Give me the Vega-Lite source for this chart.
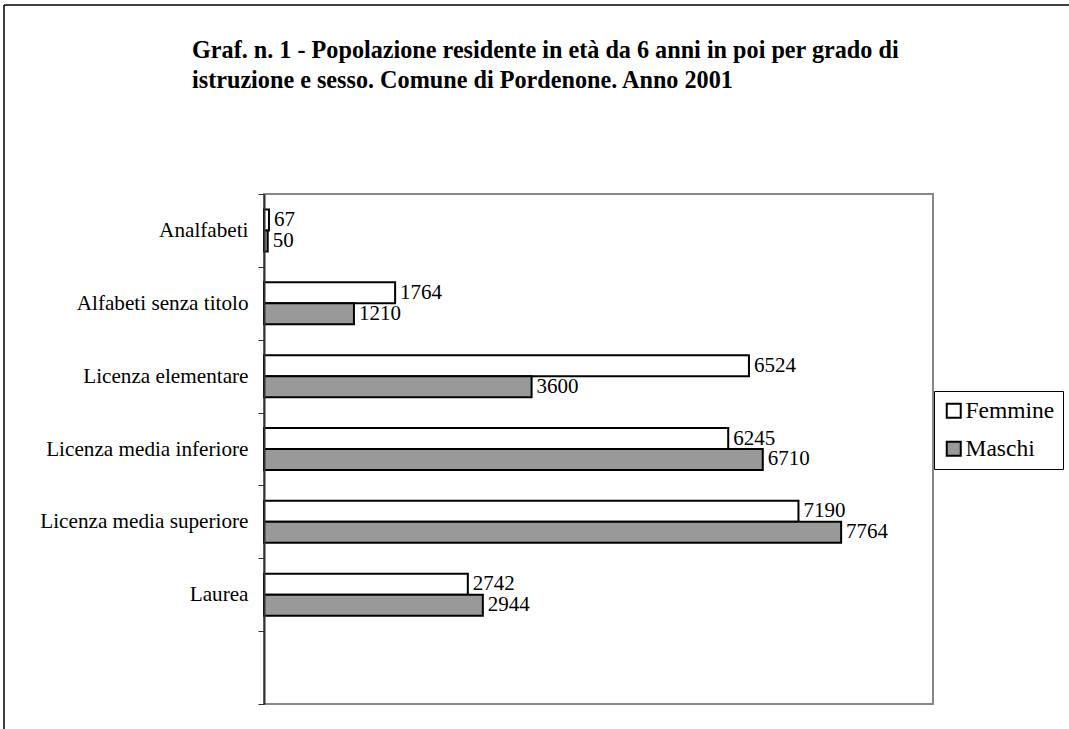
{
  "$schema": "https://vega.github.io/schema/vega-lite/v6.json",
  "autosize": "none",
  "padding": {"left": 4, "top": 5, "right": 0, "bottom": 0},
  "width": 1065,
  "height": 724,
  "background": "white",
  "config": {
    "view": {"stroke": "black", "strokeWidth": 1.5, "strokeDash": [1065, 1789, 724, 0]},
    "font": "Liberation Serif"
  },
  "title": {
    "text": ["Graf. n. 1 - Popolazione residente in età da 6 anni in poi per grado di", "istruzione e sesso. Comune di Pordenone. Anno 2001"],
    "anchor": "start",
    "frame": "group",
    "font": "Liberation Serif",
    "fontSize": 24.2,
    "fontWeight": "bold",
    "color": "black",
    "lineHeight": 30,
    "dx": 188,
    "dy": 103
  },
  "data": {
    "values": [
      {"cat": "Analfabeti", "sex": "Femmine", "value": 67},
      {"cat": "Analfabeti", "sex": "Maschi", "value": 50},
      {"cat": "Alfabeti senza titolo", "sex": "Femmine", "value": 1764},
      {"cat": "Alfabeti senza titolo", "sex": "Maschi", "value": 1210},
      {"cat": "Licenza elementare", "sex": "Femmine", "value": 6524},
      {"cat": "Licenza elementare", "sex": "Maschi", "value": 3600},
      {"cat": "Licenza media inferiore", "sex": "Femmine", "value": 6245},
      {"cat": "Licenza media inferiore", "sex": "Maschi", "value": 6710},
      {"cat": "Licenza media superiore", "sex": "Femmine", "value": 7190},
      {"cat": "Licenza media superiore", "sex": "Maschi", "value": 7764},
      {"cat": "Laurea", "sex": "Femmine", "value": 2742},
      {"cat": "Laurea", "sex": "Maschi", "value": 2944}
    ]
  },
  "resolve": {"scale": {"y": "independent"}, "axis": {"y": "independent"}},
  "layer": [
    {
      "mark": {"type": "rect", "fill": "white", "fillOpacity": 0, "stroke": "#888888", "strokeWidth": 2},
      "encoding": {
        "x": {"datum": 0, "type": "quantitative", "scale": {"domain": [0, 9000], "range": [260, 929]}, "axis": null},
        "x2": {"datum": 9000},
        "y": {"datum": 0, "type": "quantitative", "scale": {"domain": [0, 1], "range": [189, 699]}, "axis": null},
        "y2": {"datum": 1}
      }
    },
    {
      "encoding": {
        "x": {"field": "value", "type": "quantitative", "scale": {"domain": [0, 9000], "range": [260, 929]}, "axis": null},
        "y": {
          "field": "cat",
          "type": "nominal",
          "sort": null,
          "scale": {
            "domain": ["Analfabeti", "Alfabeti senza titolo", "Licenza elementare", "Licenza media inferiore", "Licenza media superiore", "Laurea", " "],
            "range": [189, 699],
            "paddingInner": 0,
            "paddingOuter": 0
          },
          "axis": {
            "orient": "left",
            "offset": -260,
            "title": null,
            "domainColor": "#333333",
            "domainWidth": 2,
            "tickColor": "#333333",
            "tickSize": 6,
            "tickWidth": 1,
            "tickBand": "extent",
            "labelFont": "Liberation Serif",
            "labelFontSize": 21.2,
            "labelColor": "black",
            "labelPadding": 10,
            "labelLimit": 400,
            "zindex": 1
          }
        },
        "yOffset": {
          "field": "sex",
          "type": "nominal",
          "scale": {"domain": ["Femmine", "Maschi"], "paddingInner": 0, "paddingOuter": 0.735}
        }
      },
      "layer": [
        {
          "mark": {"type": "bar", "stroke": "black", "strokeWidth": 2},
          "encoding": {
            "fill": {
              "field": "sex",
              "type": "nominal",
              "scale": {"domain": ["Femmine", "Maschi"], "range": ["#ffffff", "#999999"]},
              "legend": {
                "orient": "none",
                "legendX": 930,
                "legendY": 386,
                "title": null,
                "strokeColor": "black",
                "padding": 8,
                "symbolType": "square",
                "symbolSize": 196,
                "symbolStrokeColor": "black",
                "symbolStrokeWidth": 2,
                "symbolOpacity": 1,
                "labelFont": "Liberation Serif",
                "labelFontSize": 23.5,
                "labelColor": "black",
                "labelOffset": 0,
                "rowPadding": 13
              }
            }
          }
        },
        {
          "mark": {"type": "text", "align": "left", "baseline": "middle", "dx": 5, "font": "Liberation Serif", "fontSize": 21, "color": "black"},
          "encoding": {"text": {"field": "value", "type": "quantitative", "format": "d"}}
        }
      ]
    }
  ]
}
